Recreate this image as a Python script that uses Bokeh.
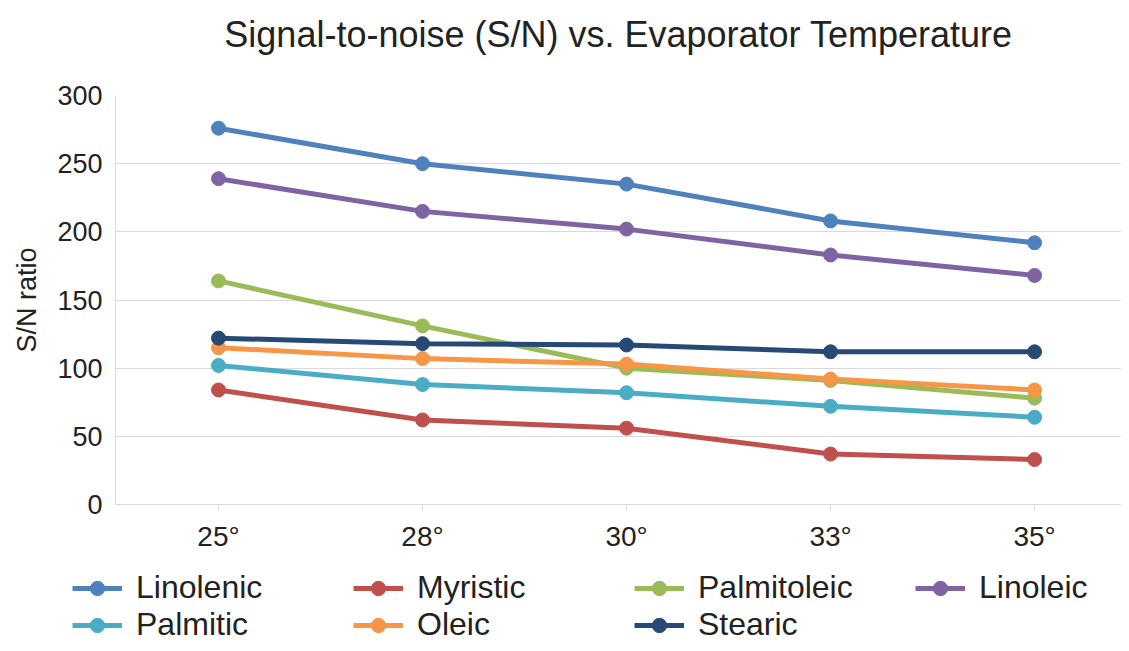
from bokeh.plotting import figure
from bokeh.layouts import column, row
from bokeh.models import Legend, LegendItem, FixedTicker, Range1d, Title
from bokeh.embed import file_html
from bokeh.resources import INLINE

temps = ["25°", "28°", "30°", "33°", "35°"]
linolenic = [276, 250, 235, 208, 192]
myristic = [84, 62, 56, 37, 33]
palmitoleic = [164, 131, 100, 91, 78]
linoleic = [239, 215, 202, 183, 168]
palmitic = [102, 88, 82, 72, 64]
oleic = [115, 107, 103, 92, 84]
stearic = [122, 118, 117, 112, 112]

series = [
    ("Linolenic", linolenic, "#4F81BD"),
    ("Myristic", myristic, "#C0504D"),
    ("Palmitoleic", palmitoleic, "#9BBB59"),
    ("Linoleic", linoleic, "#8064A2"),
    ("Palmitic", palmitic, "#4BACC6"),
    ("Oleic", oleic, "#F79646"),
    ("Stearic", stearic, "#264A75"),
]

FONT = "Liberation Sans"
TXT = "#222222"
GRID = "#D9D9D9"

xpos = list(range(len(temps)))

p = figure(
    x_range=Range1d(-0.505, 4.426),
    y_range=Range1d(0, 300),
    width=1121, height=560,
    output_backend="svg", toolbar_location=None,
    min_border_left=115, min_border_right=0,
    min_border_top=95, min_border_bottom=56,
    title="Signal-to-noise (S/N) vs. Evaporator Temperature",
)
p.outline_line_color = None
p.background_fill_color = "white"
p.border_fill_color = "white"

p.title.text_font = FONT
p.title.text_font_size = "36px"
p.title.text_font_style = "normal"
p.title.text_color = TXT
p.title.align = "center"
p.title.offset = 0
p.title.standoff = 0
# blank spacer between title and plot frame
p.add_layout(Title(text=" ", text_font_size="1px", standoff=38), "above")

for name, vals, col in series:
    p.line(xpos, vals, line_color=col, line_width=5)
    p.scatter(xpos, vals, size=14, fill_color=col, line_color=col)

p.xgrid.grid_line_color = None
p.ygrid.grid_line_color = GRID
p.ygrid.grid_line_width = 1

p.yaxis.ticker = FixedTicker(ticks=[0, 50, 100, 150, 200, 250, 300])
p.yaxis.major_tick_line_color = None
p.yaxis.minor_tick_line_color = None
p.yaxis.axis_line_color = GRID
p.yaxis.major_label_text_font = FONT
p.yaxis.major_label_text_font_size = "27px"
p.yaxis.major_label_text_color = TXT
p.yaxis.major_label_standoff = 7
p.yaxis.axis_label = "S/N ratio"
p.yaxis.axis_label_text_font = FONT
p.yaxis.axis_label_text_font_size = "27px"
p.yaxis.axis_label_text_font_style = "normal"
p.yaxis.axis_label_text_color = TXT
p.yaxis.axis_label_standoff = 12

p.xaxis.ticker = FixedTicker(ticks=xpos)
p.xaxis.major_label_overrides = {i: t for i, t in zip(xpos, temps)}
p.xaxis.axis_line_color = GRID
p.xaxis.major_tick_line_color = GRID
p.xaxis.major_tick_out = 6
p.xaxis.major_tick_in = 0
p.xaxis.minor_tick_line_color = None
p.xaxis.major_label_text_font = FONT
p.xaxis.major_label_text_font_size = "28px"
p.xaxis.major_label_text_color = TXT
p.xaxis.major_label_standoff = 10

# legend strip below the chart (its data lie outside its visible ranges)
lg = figure(
    x_range=(100, 101), y_range=(1000, 1001), width=1121, height=83,
    output_backend="svg", toolbar_location=None,
    x_axis_location=None, y_axis_location=None,
    min_border=0, min_border_left=0, min_border_right=0,
    min_border_top=0, min_border_bottom=0,
)
lg.outline_line_color = None
lg.xgrid.grid_line_color = None
lg.ygrid.grid_line_color = None

items = []
for name, vals, col in series:
    r1 = lg.line(xpos, vals, line_color=col, line_width=5)
    r2 = lg.scatter(xpos, vals, size=12, fill_color=col, line_color=col)
    items.append(LegendItem(label=name, renderers=[r1, r2]))

legend = Legend(
    items=items, location=(72, 0), orientation="horizontal", ncols=4,
    glyph_width=50, glyph_height=36, label_height=36, label_standoff=14,
    label_width=217, spacing=0, padding=0, margin=0,
    label_text_font=FONT, label_text_font_size="32px", label_text_color=TXT,
    border_line_color=None, background_fill_alpha=0,
)
lg.add_layout(legend, "center")

layout = column(p, row(lg), spacing=0)
open("out.html", "w").write(file_html(layout, INLINE))
